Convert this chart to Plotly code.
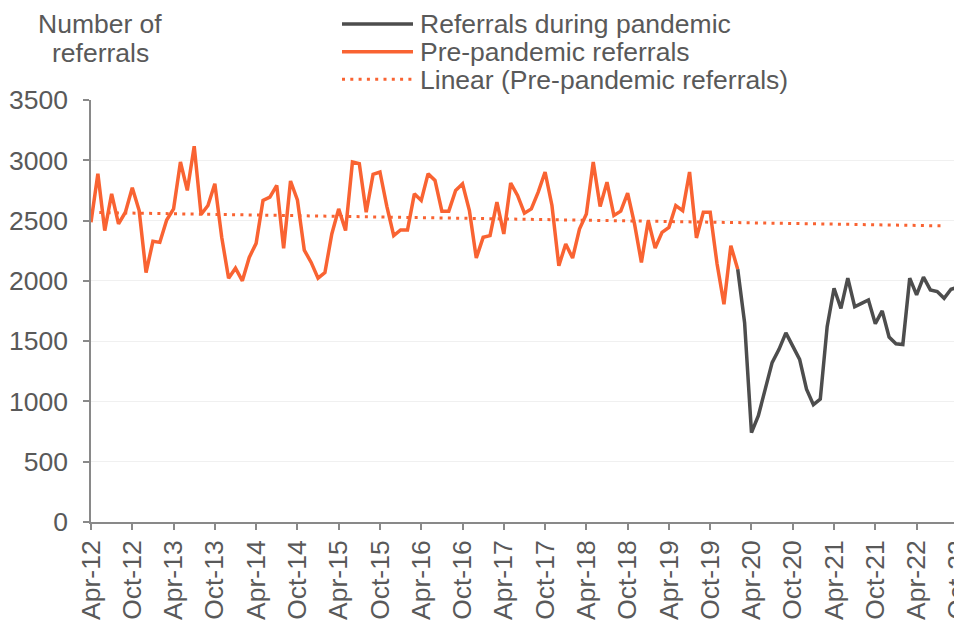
import numpy as np
import plotly.graph_objects as go

# ---- data (monthly, index 0 = Apr-12) ----
pre_pandemic = [
    2486, 2889, 2417, 2722, 2472, 2569, 2772, 2583, 2069, 2328, 2319, 2505,
    2597, 2986, 2750, 3117, 2550, 2625, 2805, 2361, 2022, 2105, 2000, 2194,
    2311, 2667, 2694, 2792, 2269, 2828, 2672, 2255, 2153, 2022, 2069, 2389,
    2597, 2417, 2986, 2972, 2569, 2883, 2903, 2618, 2375, 2422, 2422, 2722,
    2667, 2889, 2833, 2578, 2578, 2750, 2805, 2583, 2189, 2361, 2375, 2653,
    2389, 2811, 2708, 2561, 2597, 2736, 2903, 2625, 2125, 2305, 2189, 2430,
    2555, 2986, 2617, 2819, 2542, 2578, 2728, 2472, 2153, 2500, 2272, 2403,
    2444, 2625, 2583, 2903, 2356, 2569, 2569, 2139, 1806, 2292, 2097,
]
pandemic_start = 94  # Feb-20, where the pandemic series joins
pandemic = [
    2097, 1653, 742, 882, 1102, 1322, 1432, 1569, 1459, 1349, 1102, 973,
    1019, 1620, 1939, 1771, 2022, 1785, 1813, 1841, 1645, 1751, 1534, 1478,
    1472, 2022, 1883, 2031, 1925, 1911, 1855, 1930, 1947, 1890,
]
trend_end = 124  # trendline forecast extends to Aug-22

tick_labels = [
    "Apr-12", "Oct-12", "Apr-13", "Oct-13", "Apr-14", "Oct-14", "Apr-15",
    "Oct-15", "Apr-16", "Oct-16", "Apr-17", "Oct-17", "Apr-18", "Oct-18",
    "Apr-19", "Oct-19", "Apr-20", "Oct-20", "Apr-21", "Oct-21", "Apr-22",
    "Oct-22",
]
tick_step = 6

series_names = ["Referrals during pandemic", "Pre-pandemic referrals",
                "Linear (Pre-pandemic referrals)"]
y_title = ["Number of", "referrals"]

# ---- derived ----
x_pre = list(range(len(pre_pandemic)))
x_pan = list(range(pandemic_start, pandemic_start + len(pandemic)))
coef = np.polyfit(x_pre, pre_pandemic, 1)
x_trend = list(range(0, trend_end + 1))
y_trend = list(np.polyval(coef, x_trend))

ORANGE = "#F96332"
DARK = "#4D4D4D"
TEXT = "#595959"
AXIS = "#898989"
FONT = "Liberation Sans, Arial, sans-serif"
FS = 26.5

# page body has an 8px margin; figure is sized/placed to compensate
OFF = 8
W, H = 962 - OFF, 620 - OFF
L, R, T = 91 - OFF, 0, 100 - OFF
B = H - (522 - OFF)
pw, ph = W - L - R, H - T - B

def px(xp):  # window pixel -> paper x
    return (xp - OFF - L) / pw

def py(yp):  # window pixel -> paper y
    return (H - B - (yp - OFF)) / ph

fig = go.Figure()
fig.add_trace(go.Scatter(x=x_trend, y=y_trend, mode="lines",
                         line=dict(color=ORANGE, width=3, dash="3px,5.3px"),
                         name=series_names[2], showlegend=False))
fig.add_trace(go.Scatter(x=x_pre, y=pre_pandemic, mode="lines",
                         line=dict(color=ORANGE, width=3.5),
                         name=series_names[1], showlegend=False))
fig.add_trace(go.Scatter(x=x_pan, y=pandemic, mode="lines",
                         line=dict(color=DARK, width=3.5),
                         name=series_names[0], showlegend=False))

# manual legend
leg_rows = [24, 51.7, 79.3]
leg_styles = [dict(color=DARK, width=3.5), dict(color=ORANGE, width=3.5),
              dict(color=ORANGE, width=3, dash="3px,5.3px")]
shapes = []
annotations = []
for yrow, st, name in zip(leg_rows, leg_styles, series_names):
    shapes.append(dict(type="line", xref="paper", yref="paper",
                       x0=px(342), x1=px(413), y0=py(yrow), y1=py(yrow),
                       line=st))
    annotations.append(dict(text=name, xref="paper", yref="paper",
                            x=px(418), y=py(yrow + 0.5), xanchor="left",
                            yanchor="middle", showarrow=False,
                            font=dict(family=FONT, size=FS, color=TEXT)))
for yrow, t in zip([24, 53], y_title):
    annotations.append(dict(text=t, xref="paper", yref="paper",
                            x=px(100), y=py(yrow), xanchor="center",
                            yanchor="middle", showarrow=False,
                            font=dict(family=FONT, size=FS, color=TEXT)))

fig.update_layout(
    width=W, height=H,
    margin=dict(l=L, r=R, t=T, b=B, pad=0, autoexpand=False),
    paper_bgcolor="white", plot_bgcolor="white",
    showlegend=False,
    shapes=shapes, annotations=annotations,
    font=dict(family=FONT, size=FS, color=TEXT),
)
fig.update_xaxes(
    automargin=False,
    range=[0, pw / 6.88],
    tickmode="array",
    tickvals=[i * tick_step for i in range(len(tick_labels))],
    ticktext=tick_labels,
    tickangle=-90,
    ticklabeloverflow="allow",
    showgrid=False, zeroline=False,
    showline=True, linecolor=AXIS, linewidth=1.5,
    ticks="outside", ticklen=6, tickwidth=1.5, tickcolor=AXIS,
    tickfont=dict(family=FONT, size=FS, color=TEXT),
)
fig.update_yaxes(
    automargin=False,
    range=[0, 3500], tickmode="linear", tick0=0, dtick=500,
    showgrid=True, gridcolor="#F0F0F0", gridwidth=1, zeroline=False,
    showline=True, linecolor=AXIS, linewidth=1.5,
    ticks="outside", ticklen=6, tickwidth=1.5, tickcolor=AXIS,
    ticklabelstandoff=10,
    tickfont=dict(family=FONT, size=FS, color=TEXT),
)

fig.write_html("out.html")
